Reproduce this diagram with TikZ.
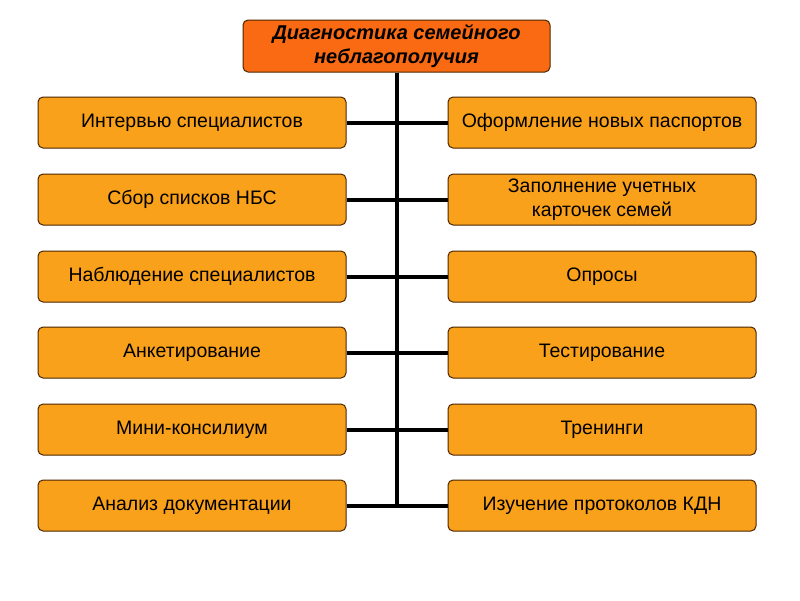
\documentclass[tikz,border=0pt]{standalone}
\usepackage{fontspec}
\setmainfont{Liberation Sans}
\begin{document}
\begin{tikzpicture}[x=1pt,y=-1pt,
  box/.style={draw=black!70!orange,line width=1pt,fill=boxor,rounded corners=5pt,minimum width=308pt,minimum height=51pt,align=center,font=\fontsize{19.5}{24}\selectfont,inner sep=2pt},
  head/.style={box,fill=heador,font=\fontsize{20}{24}\selectfont\bfseries\itshape},
  conn/.style={line width=4pt,black}]
\definecolor{boxor}{HTML}{F9A11B}
\definecolor{heador}{HTML}{F96A12}
\useasboundingbox[fill=white] (0,0) rectangle (800,600);
\node[head,minimum width=307pt,minimum height=52pt] (h) at (396.5,46) {Диагностика семейного\\неблагополучия};
\foreach \i/\y/\l/\r in {1/122.5/Интервью специалистов/Оформление новых паспортов,
 2/199.5/Сбор списков НБС/{Заполнение учетных\\карточек семей},
 3/276.5/Наблюдение специалистов/Опросы,
 4/352.5/Анкетирование/Тестирование,
 5/429.5/Мини-консилиум/Тренинги,
 6/505.5/Анализ документации/Изучение протоколов КДН}{
  \node[box] (l\i) at (192,\y) {\l};
  \node[box] (r\i) at (602,\y) {\r};
  \draw[conn] (l\i.east) -- (r\i.west);
}
\coordinate (bot) at (397,505.5);
\draw[conn] (h.south) -- (h.south |- bot);
\end{tikzpicture}
\end{document}
